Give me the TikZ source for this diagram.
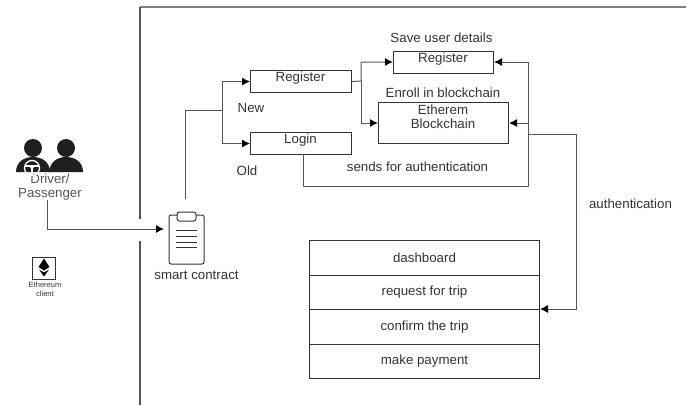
\documentclass[tikz,border=0pt]{standalone}
\usepackage{fontspec}
\setmainfont{Liberation Sans}
\usetikzlibrary{arrows.meta}
\definecolor{ink}{HTML}{333333}
\definecolor{wire}{HTML}{555555}
\tikzset{
  px/.style={x=1pt,y=-1pt},
  boxed/.style={draw=ink,line width=1pt,minimum height=22pt,inner sep=0pt,anchor=north west,fill=white},
  rowbox/.style={draw=ink,line width=1pt,minimum width=230pt,minimum height=34.5pt,inner sep=0pt,anchor=north west,font=\fontsize{13.3}{14}\selectfont,text=ink},
  lab/.style={font=\fontsize{13.3}{14}\selectfont,text=ink,inner sep=0pt},
  conn/.style={draw=wire,line width=1pt},
  arr/.style={conn,-{Latex[length=8pt,width=8pt,black]}},
  frame/.style={draw=wire,line width=1.1pt},
  topline/.style={draw=gray,line width=1.6pt}
}
\begin{document}
\begin{tikzpicture}[px]
\useasboundingbox (0,0) rectangle (687,405);
% frame
\draw[topline] (686,7) -- (139.5,7);
\draw[frame] (140,7) -- (140,219);
\draw[frame] (140,241) -- (140,405);
% boxes
\node[boxed,minimum width=101pt] (reg) at (250,70) {};
\node[lab] at (300.5,78) {Register};
\node[boxed,minimum width=101pt] (login) at (250,132) {};
\node[lab] at (300.5,140) {Login};
\node[boxed,minimum width=100pt] (reg2) at (393,51) {};
\node[lab] at (443,59) {Register};
\node[boxed,minimum width=130pt,minimum height=41pt] (eth) at (378,102) {};
\node[lab,align=center] at (443,117) {Etherem\\Blockchain};
% table
\node[rowbox] (r1) at (309,240) {dashboard};
\node[rowbox] (r2) at (309,274.5) {request for trip};
\node[rowbox] (r3) at (309,309) {confirm the trip};
\node[rowbox] (r4) at (309,343.5) {make payment};
% labels
\node[lab] at (441.5,38) {Save user details};
\node[lab] at (443,92.5) {Enroll in blockchain};
\node[lab] (new) at (251,108) {New};
\node[lab] (old) at (247,171) {Old};
\node[lab] at (417.5,167) {sends for authentication};
\node[lab] at (630.5,204) {authentication};
\node[lab] at (196.5,275) {smart contract};
\node[lab,align=center,text=wire] (drv) at (50,187) {Driver/\\Passenger};
% Ethereum client
\node[draw=ink,line width=1pt,minimum width=23pt,minimum height=22pt,inner sep=0pt] (ec) at (44,268) {};
\fill[black] (44,258.5) -- (49.5,267) -- (44,270.5) -- (38.5,267) -- cycle;
\fill[black] (39,269.5) -- (44,272.5) -- (49,269.5) -- (44,276.5) -- cycle;
\node[font=\fontsize{7.5}{9}\selectfont,align=center,text=ink,inner sep=0pt] at (45,289.5) {Ethereum\\client};
% people
\fill[ink!60!black] (33,148) circle (9);
\fill[ink!60!black] (66,148) circle (9);
\fill[ink!60!black] (16,172) .. controls (16,162) and (24,157) .. (33,157) .. controls (42,157) and (50,162) .. (50,172) -- cycle;
\fill[ink!60!black] (49,172) .. controls (50,162) and (57,157) .. (66,157) .. controls (75,157) and (83,162) .. (83,172) -- cycle;
\draw[white,line width=1.3pt] (32,168) circle (7.5);
\fill[white] (32,167) circle (2);
\draw[white,line width=1.3pt] (25,166) -- (39,166);
\draw[white,line width=1.3pt] (32,167) -- (32,175);
% clipboard
\draw[ink,line width=1pt,rounded corners=2pt] (169,215) rectangle (204,264);
\draw[ink,line width=1pt,rounded corners=2.5pt,fill=white] (177,212) rectangle (196,221);
\foreach \yy in {230,236,242,247} \draw[ink,line width=1pt] (176,\yy) -- (197,\yy);
\coordinate (clipL) at (164,229);
\coordinate (clipT) at (185,199);
% connectors
\draw[arr] (47,200) |- (clipL);
\draw[conn] (clipT) -- (185,110) -- (222,110);
\draw[arr] (222,110) |- (reg.west);
\draw[arr] (222,110) |- (login.west);
\draw[arr] (reg.east) -- (361,81) |- (reg2.west |- 0,62);
\draw[arr] (361,81) |- (eth.west |- 0,123);
\draw[conn] (303,154) -- (303,186) -- (528,186) -- (528,62);
\draw[arr] (528,62) -- (reg2.east |- 0,62);
\draw[arr] (528,123) -- (eth.east |- 0,123);
\draw[arr] (528,134) -- (576,134) -- (576,309) -- (r3.north east);
\end{tikzpicture}
\end{document}
